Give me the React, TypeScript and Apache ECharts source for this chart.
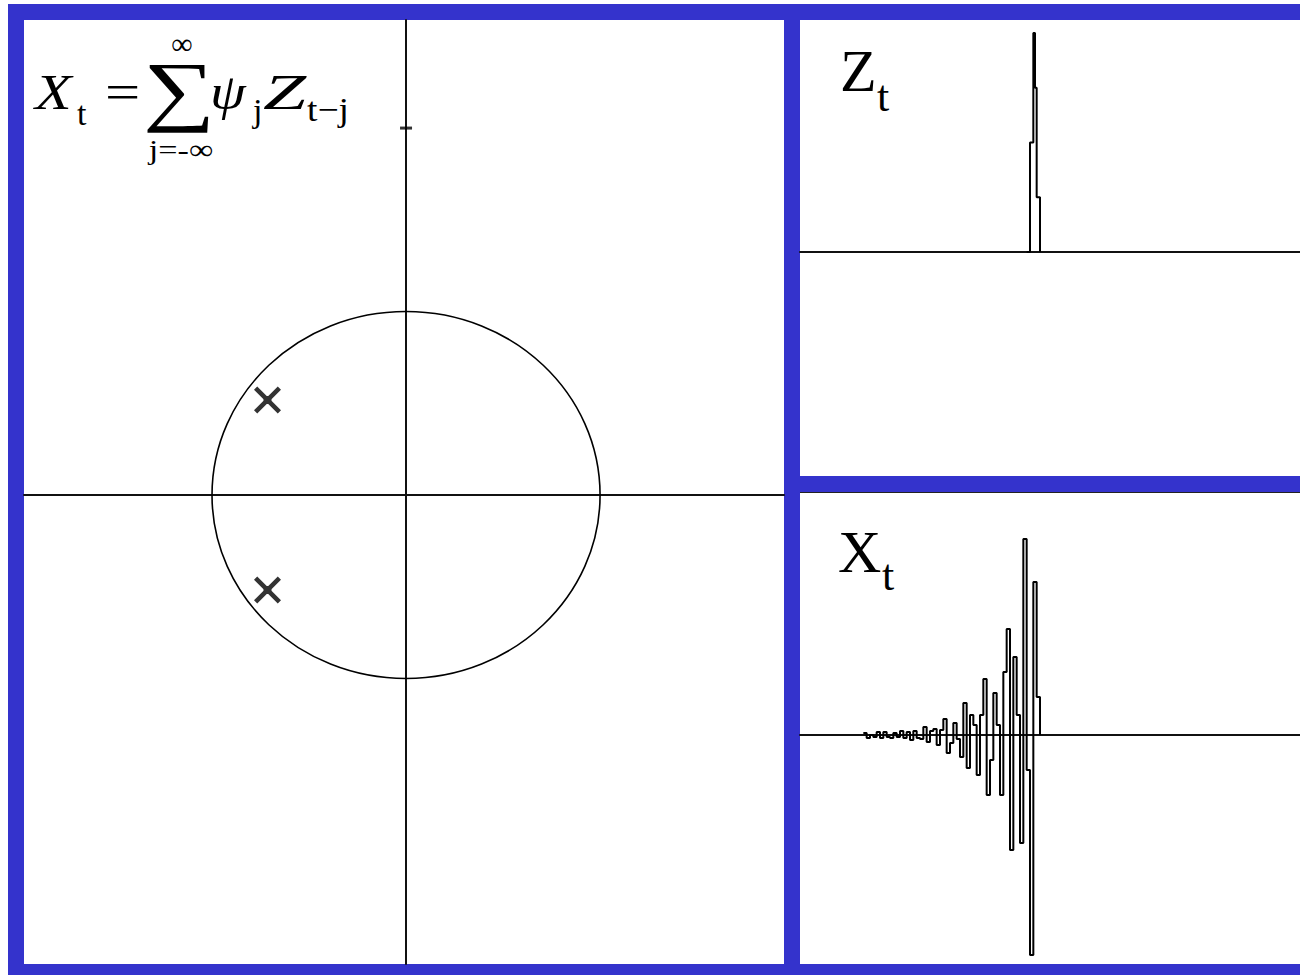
import React, { useEffect, useRef } from "react";
import * as echarts from "echarts";

// z-plane: unit circle [centreRe, centreIm, radius], poles, one axis tick
const unitCircle = [[0, 0, 1]];
const poles = [
  [-0.714, 0.518],
  [-0.714, -0.518],
];
const imagTicks = [[0, 2]];

// impulse input Z_t (time index, value)
const zTimes = [68, 69, 70, 70.5, 71, 72];
const zValues = [0, 0.5, 1.0, 0.75, 0.25, 0];

// output X_t, one value per time step starting at xStart
const xStart = 19;
const xValues = [
  0.02, -0.03, 0.0, -0.02, 0.03, -0.03, 0.03, -0.02, -0.03, 0.02,
  -0.02, 0.04, -0.03, 0.03, -0.05, 0.04, -0.03, -0.04, 0.08, -0.07,
  0.04, 0.06, -0.1, 0.05, 0.16, -0.18, -0.08, 0.12, -0.04, -0.22,
  0.32, -0.33, 0.2, 0.1, -0.4, 0.2, 0.56, -0.6, -0.25, 0.42,
  0.1, -0.6, 0.63, 1.06, -1.15, 0.78, 0.2, -1.08, 1.96, -0.35,
  -2.2, 1.53, 0.38, 0,
];

const BLUE = "#3433CC";
const SERIF = '"Liberation Serif", "Times New Roman", serif';

function txt(
  text: string,
  x: number,
  y: number,
  size: number,
  opts: { italic?: boolean; align?: string; sx?: number } = {}
) {
  const align = opts.align || "left";
  return {
    type: "text",
    z: 20,
    x,
    y,
    scaleX: opts.sx || 1,
    style: {
      text,
      fill: "#000",
      font: `${opts.italic ? "italic " : ""}${size}px ${SERIF}`,
      align,
      verticalAlign: "middle",
      textAlign: align,
      textVerticalAlign: "middle",
    },
  };
}

export default function App() {
  const ref = useRef<HTMLDivElement>(null);

  useEffect(() => {
    document.body.style.margin = "0";
    if (!ref.current) return;
    const chart = echarts.init(ref.current, undefined, { renderer: "svg" });

    const zData = zTimes.map((t, i) => [t, zValues[i]]);
    const xData = xValues.map((v, i) => [xStart + i, v]);

    const hiddenAxis = {
      axisTick: { show: false },
      axisLabel: { show: false },
      splitLine: { show: false },
    };
    const axisLine = { show: true, onZero: true, lineStyle: { color: "#111", width: 2 } };

    chart.setOption({
      animation: false,
      backgroundColor: "#fff",
      grid: [
        { left: 24, top: 20, width: 760, height: 944 },
        { left: 800, top: 20, width: 500, height: 456 },
        { left: 800, top: 492, width: 500, height: 472 },
      ],
      xAxis: [
        { type: "value", gridIndex: 0, min: -1.969, max: 1.948, axisLine, ...hiddenAxis },
        { type: "value", gridIndex: 1, min: 0, max: 150, axisLine, ...hiddenAxis },
        { type: "value", gridIndex: 2, min: 0, max: 150, axisLine, ...hiddenAxis },
      ],
      yAxis: [
        { type: "value", gridIndex: 0, min: -2.556, max: 2.589, axisLine, ...hiddenAxis },
        { type: "value", gridIndex: 1, min: -1.023, max: 1.059, axisLine: { show: false }, ...hiddenAxis },
        { type: "value", gridIndex: 2, min: -2.29, max: 2.43, axisLine: { show: false }, ...hiddenAxis },
      ],
      graphic: [
        { type: "rect", z: -20, shape: { x: 8, y: 4, width: 1292, height: 971 }, style: { fill: BLUE } },
        { type: "rect", z: -19, shape: { x: 24, y: 20, width: 760, height: 944 }, style: { fill: "#fff" } },
        { type: "rect", z: -19, shape: { x: 800, y: 20, width: 500, height: 456 }, style: { fill: "#fff" } },
        { type: "rect", z: -19, shape: { x: 800, y: 492, width: 500, height: 472 }, style: { fill: "#fff" } },
        { type: "line", z: -18, shape: { x1: 800, y1: 492.5, x2: 1300, y2: 492.5 }, style: { stroke: "#222", lineWidth: 1 } },
        // X_t = sum_{j=-inf}^{inf} psi_j Z_{t-j}
        txt("X", 35, 92, 50, { italic: true, sx: 1.2 }),
        txt("t", 77, 113, 34),
        txt("=", 105, 92, 50, { sx: 1.25 }),
        txt("∑", 179, 90, 78, { align: "center", sx: 1.3 }),
        txt("∞", 182, 43, 30, { align: "center" }),
        txt("ψ", 210, 92, 50, { italic: true, sx: 1.15 }),
        txt("j", 253, 110, 34),
        txt("Z", 263, 92, 50, { italic: true, sx: 1.55 }),
        txt("t−j", 307, 110, 34, { sx: 1.1 }),
        txt("j=-∞", 181, 150, 28, { align: "center", sx: 1.22 }),
        // panel captions
        txt("Z", 840, 71, 60),
        txt("t", 877, 96, 44),
        txt("X", 838, 552, 60),
        txt("t", 882, 575, 44),
      ],
      series: [
        {
          type: "custom",
          xAxisIndex: 0,
          yAxisIndex: 0,
          data: unitCircle,
          encode: { x: 0, y: 1 },
          renderItem: (_p: any, api: any) => {
            const cxv = api.value(0);
            const cyv = api.value(1);
            const r = api.value(2);
            const c = api.coord([cxv, cyv]);
            const px = api.coord([cxv + r, cyv]);
            const py = api.coord([cxv, cyv + r]);
            return {
              type: "ellipse",
              shape: { cx: c[0], cy: c[1], rx: Math.abs(px[0] - c[0]), ry: Math.abs(c[1] - py[1]) },
              style: { fill: "none", stroke: "#000", lineWidth: 1.6 },
            };
          },
        },
        {
          type: "scatter",
          xAxisIndex: 0,
          yAxisIndex: 0,
          data: poles,
          symbol:
            "path://M0,1.2 L1.2,0 L5,3.8 L8.8,0 L10,1.2 L6.2,5 L10,8.8 L8.8,10 L5,6.2 L1.2,10 L0,8.8 L3.8,5 Z M3.5,3.5 L6.5,3.5 L6.5,6.5 L3.5,6.5 Z",
          symbolSize: 27,
          itemStyle: { color: "#000" },
        },
        {
          type: "scatter",
          xAxisIndex: 0,
          yAxisIndex: 0,
          data: imagTicks,
          symbol: "rect",
          symbolSize: [12, 3],
          itemStyle: { color: "#000" },
        },
        {
          type: "line",
          xAxisIndex: 1,
          yAxisIndex: 1,
          data: zData,
          step: "end",
          showSymbol: false,
          lineStyle: { color: "#000", width: 2 },
        },
        {
          type: "line",
          xAxisIndex: 2,
          yAxisIndex: 2,
          data: xData,
          step: "end",
          showSymbol: false,
          lineStyle: { color: "#000", width: 2 },
        },
      ],
    });

    return () => chart.dispose();
  }, []);

  return <div ref={ref} style={{ width: 1300, height: 975 }} />;
}
